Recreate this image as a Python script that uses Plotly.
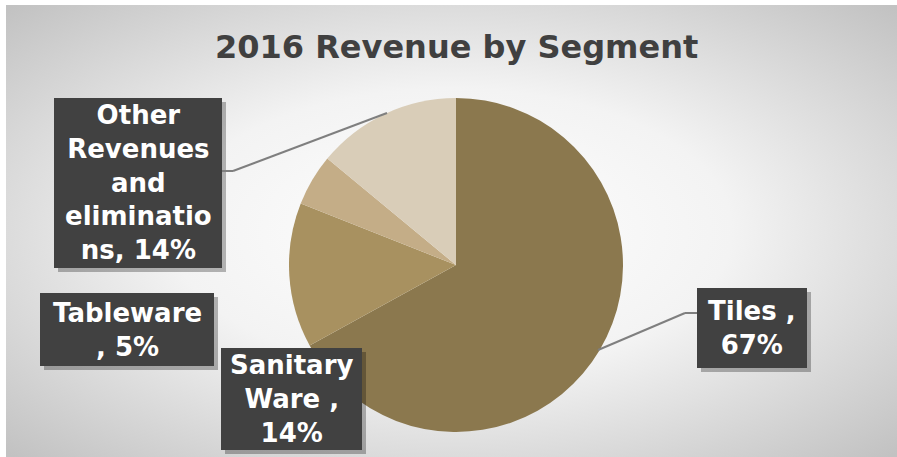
import plotly.graph_objects as go

W, H = 897, 457

categories = ["Tiles", "Sanitary Ware", "Tableware", "Other Revenues and eliminations"]
shares = [67, 14, 5, 14]
label_lines = [["Tiles ,"], ["Sanitary", "Ware ,"], ["Tableware", ","], ["Other", "Revenues", "and", "eliminatio", "ns,"]]
colors = ["#8b784e", "#a89160", "#c4ad87", "#d9cdb8"]

def px(x):
    return x / W

def py(y):
    return 1 - y / H

# pie placement (pixels)
cx, cy, r = 456, 265, 167

fig = go.Figure(go.Pie(
    labels=categories, values=shares, sort=False, direction="clockwise", rotation=0,
    marker=dict(colors=colors, line=dict(width=0)), textinfo="none", hoverinfo="label+percent",
    showlegend=False,
    domain=dict(x=[px(cx - r), px(cx + r)], y=[py(cy + r), py(cy - r)]),
))

svg = ("data:image/svg+xml;utf8,<svg xmlns='http://www.w3.org/2000/svg' width='891' height='452' "
       "preserveAspectRatio='none'><defs><radialGradient id='g' cx='50%' cy='50%' r='70%'>"
       "<stop offset='0' stop-color='%23ffffff'/><stop offset='0.45' stop-color='%23f3f3f3'/>"
       "<stop offset='1' stop-color='%23c2c2c2'/></radialGradient></defs>"
       "<rect width='891' height='452' fill='url(%23g)'/></svg>")
fig.add_layout_image(dict(source=svg, xref="paper", yref="paper", x=px(6), y=py(5),
                          sizex=px(W - 6), sizey=(H - 5) / H, sizing="stretch",
                          xanchor="left", yanchor="top", layer="below"))

# label boxes (pixels: x0, y0, x1, y1) in category order
boxes = [(697, 288, 807, 368), (221, 348, 362, 450), (40, 293, 214, 366), (54, 98, 222, 268)]

shapes = []
annotations = []
for cat, val, lines, (x0, y0, x1, y1) in zip(categories, shares, label_lines, boxes):
    shapes.append(dict(type="rect", xref="paper", yref="paper", x0=px(x0 + 4), x1=px(x1 + 4),
                       y0=py(y1 + 4), y1=py(y0 + 4), fillcolor="rgba(0,0,0,0.28)", line=dict(width=0)))
    shapes.append(dict(type="rect", xref="paper", yref="paper", x0=px(x0), x1=px(x1),
                       y0=py(y1), y1=py(y0), fillcolor="#414141", line=dict(width=0)))
    txt = list(lines)
    if len(txt[-1]) <= 1:
        txt[-1] = f", {val}%"
    elif cat.startswith("Other"):
        txt[-1] = txt[-1] + f" {val}%"
    else:
        txt.append(f"{val}%")
    text = "<br>".join(txt)
    annotations.append(dict(xref="paper", yref="paper", x=px((x0 + x1) / 2), y=py((y0 + y1) / 2),
                            xanchor="center", yanchor="middle", showarrow=False, align="center",
                            text=f"<b>{text}</b>",
                            font=dict(family="DejaVu Sans", size=26, color="#ffffff")))

# leader lines
leaders = [[(598, 350), (685, 313), (697, 313)], [(222, 171), (233, 171), (387, 113)]]
for pts in leaders:
    for (ax, ay), (bx, by) in zip(pts[:-1], pts[1:]):
        shapes.append(dict(type="line", xref="paper", yref="paper", x0=px(ax), y0=py(ay),
                           x1=px(bx), y1=py(by), line=dict(color="#7f7f7f", width=2)))

annotations.append(dict(xref="paper", yref="paper", x=px(456), y=py(47), xanchor="center",
                        yanchor="middle", showarrow=False, text="<b>2016 Revenue by Segment</b>",
                        font=dict(family="DejaVu Sans", size=32, color="#404040")))

fig.update_layout(width=W, height=H, margin=dict(l=0, r=0, t=0, b=0),
                  paper_bgcolor="#ffffff", plot_bgcolor="rgba(0,0,0,0)",
                  shapes=shapes, annotations=annotations)

fig.write_html("out.html", config={"displayModeBar": False},
               post_script="document.body.style.margin='0';document.body.style.overflow='hidden';")
